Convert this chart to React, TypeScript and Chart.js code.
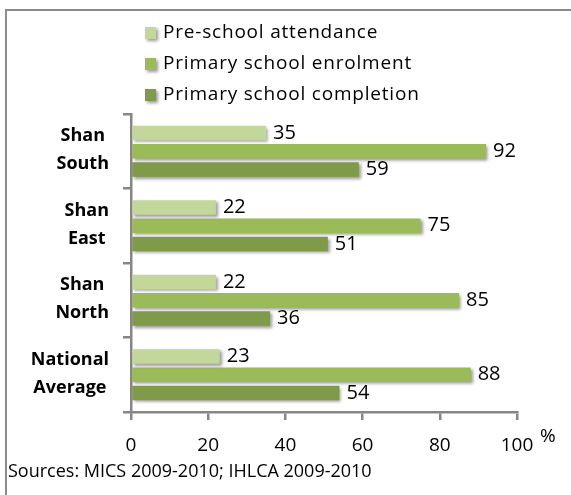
import React, { useEffect, useRef } from 'react';
import { Chart, registerables } from 'chart.js';

Chart.register(...registerables);

const categories: string[][] = [
  ['Shan', 'South'],
  ['Shan', 'East'],
  ['Shan', 'North'],
  ['National', 'Average'],
];
const seriesNames = ['Pre-school attendance', 'Primary school enrolment', 'Primary school completion'];
const preSchool = [35, 22, 22, 23];
const enrolment = [92, 75, 85, 88];
const completion = [59, 51, 36, 54];
const xTickValues = [0, 20, 40, 60, 80, 100];
const seriesColors = ['#c4d79b', '#9bbb59', '#7f9a48'];
const unitLabel = '%';
const sourceNote = 'Sources: MICS 2009-2010; IHLCA 2009-2010';

const FONT = '"Open Sans", "DejaVu Sans", sans-serif';
const AXIS_GRAY = '#868686';

function setShadow(ctx: CanvasRenderingContext2D) {
  ctx.shadowColor = 'rgba(120,120,120,0.75)';
  ctx.shadowOffsetX = 2;
  ctx.shadowOffsetY = 2;
  ctx.shadowBlur = 3;
}

const decorPlugin = {
  id: 'decor',
  beforeDatasetsDraw(chart: any) {
    const ctx = chart.ctx;
    ctx.save();
    setShadow(ctx);
  },
  afterDatasetsDraw(chart: any) {
    const ctx = chart.ctx;
    ctx.restore();
    ctx.save();
    ctx.font = `20px ${FONT}`;
    ctx.fillStyle = '#000';
    ctx.textAlign = 'left';
    ctx.textBaseline = 'middle';
    chart.data.datasets.forEach((ds: any, di: number) => {
      const meta = chart.getDatasetMeta(di);
      meta.data.forEach((el: any, i: number) => {
        ctx.fillText(String(ds.data[i]), el.x + 7, el.y);
      });
    });
    ctx.restore();
  },
  afterDraw(chart: any) {
    const ctx = chart.ctx;
    const W = chart.width;
    const H = chart.height;
    ctx.save();
    // frame
    ctx.strokeStyle = '#8c8c8c';
    ctx.lineWidth = 2;
    ctx.beginPath();
    ctx.moveTo(6, H);
    ctx.lineTo(6, 10);
    ctx.lineTo(W, 10);
    ctx.stroke();

    // legend
    ctx.font = `19px ${FONT}`;
    (ctx as any).letterSpacing = '0.8px';
    ctx.textBaseline = 'middle';
    ctx.textAlign = 'left';
    seriesNames.forEach((name, i) => {
      const y = 33 + i * 31;
      ctx.save();
      setShadow(ctx);
      ctx.fillStyle = seriesColors[i];
      ctx.fillRect(145, y - 6, 11, 12);
      ctx.restore();
      ctx.fillStyle = '#000';
      ctx.fillText(name, 163, y);
    });
    (ctx as any).letterSpacing = '0px';

    // category labels
    const yScale = chart.scales.y;
    ctx.font = `bold 18px ${FONT}`;
    ctx.textAlign = 'center';
    categories.forEach((lines, i) => {
      const yc = yScale.getPixelForValue(i);
      const widest = Math.max(...lines.map((l) => ctx.measureText(l).width));
      const cx = 109 - widest / 2;
      ctx.fillText(lines[0], cx, yc - 15);
      ctx.fillText(lines[1], cx, yc + 13);
    });

    // unit
    const xScale = chart.scales.x;
    ctx.font = `19px ${FONT}`;
    ctx.textAlign = 'left';
    ctx.fillText(unitLabel, xScale.getPixelForValue(100) + 23, 437);

    // source note
    ctx.font = `18px ${FONT}`;
    ctx.fillText(sourceNote, 8, 472);
    ctx.restore();
  },
};

export default function App() {
  const ref = useRef<HTMLCanvasElement | null>(null);
  useEffect(() => {
    if (!ref.current) return;
    const chart = new Chart(ref.current, {
      type: 'bar',
      data: {
        labels: categories.map((c) => c.join(' ')),
        datasets: [
          { label: seriesNames[0], data: preSchool, backgroundColor: seriesColors[0] },
          { label: seriesNames[1], data: enrolment, backgroundColor: seriesColors[1] },
          { label: seriesNames[2], data: completion, backgroundColor: seriesColors[2] },
        ].map((d) => ({ ...d, borderWidth: 0, barPercentage: 0.8, categoryPercentage: 0.73 })),
      },
      options: {
        indexAxis: 'y',
        responsive: false,
        animation: false,
        devicePixelRatio: 1,
        layout: { padding: { top: 114, right: 54, bottom: 43, left: 0 } },
        plugins: { legend: { display: false }, tooltip: { enabled: false } },
        scales: {
          x: {
            position: 'bottom',
            min: 0,
            max: 100,
            afterBuildTicks: (scale: any) => {
              scale.ticks = xTickValues.map((v) => ({ value: v }));
            },
            ticks: { color: '#000', font: { family: FONT, size: 19 }, padding: 14 },
            grid: { drawOnChartArea: false, drawTicks: true, tickLength: 8, color: AXIS_GRAY, lineWidth: 2.5 },
            border: { color: AXIS_GRAY, width: 2.5 },
            afterFit: (scale: any) => {
              scale.height = 40;
            },
          },
          y: {
            position: 'left',
            offset: true,
            z: 1,
            ticks: { display: false },
            grid: { offset: true, drawOnChartArea: false, drawTicks: true, tickLength: 8, color: AXIS_GRAY, lineWidth: 2.5 },
            border: { color: AXIS_GRAY, width: 2.5 },
            afterFit: (scale: any) => {
              scale.width = 131;
            },
          },
        },
      } as any,
      plugins: [decorPlugin],
    });
    return () => chart.destroy();
  }, []);
  return (
    <div style={{ position: 'fixed', left: 0, top: 0, width: 571, height: 495, background: '#fff' }}>
      <canvas ref={ref} width={571} height={495} />
    </div>
  );
}
